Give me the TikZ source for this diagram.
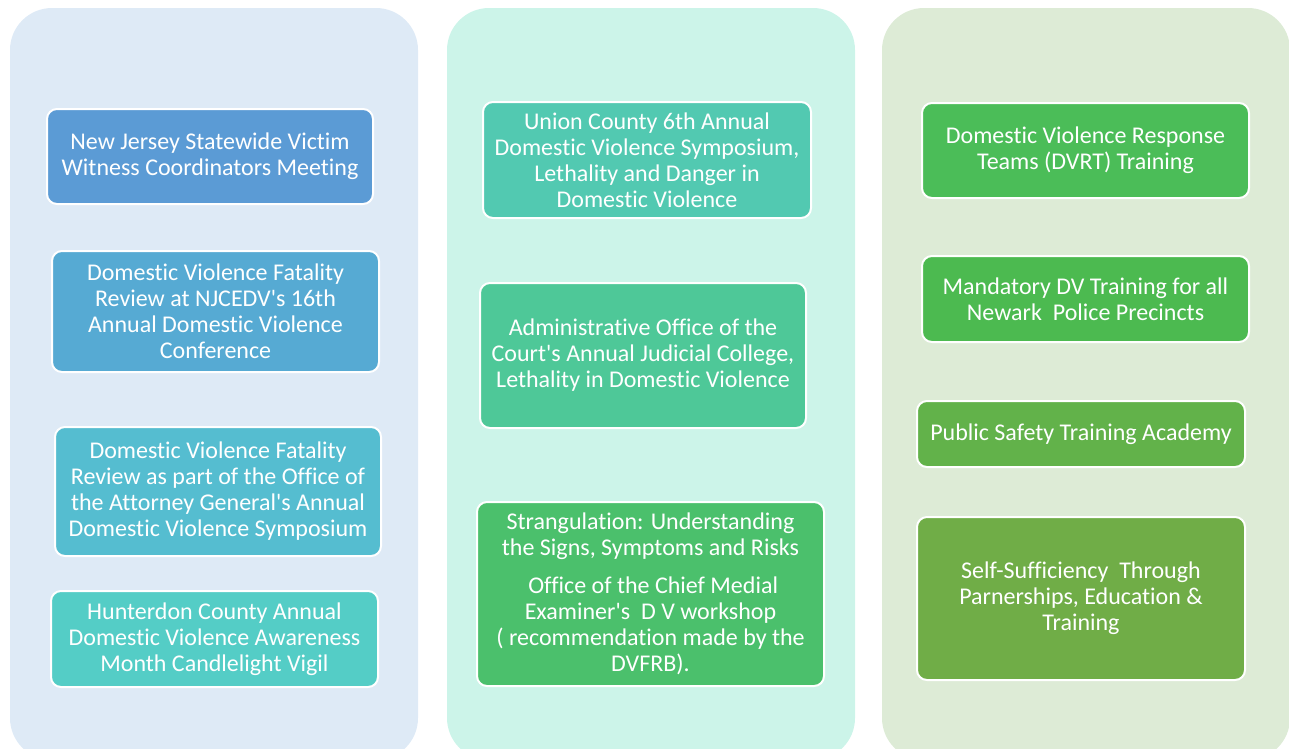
\documentclass[tikz,border=0pt]{standalone}
\usepackage{fontspec}
\setmainfont{Carlito}[Ligatures=NoCommon]
\definecolor{colA}{HTML}{DEEAF6}
\definecolor{colB}{HTML}{CCF4E9}
\definecolor{colC}{HTML}{DDEBD6}
\definecolor{boxA}{HTML}{5B9BD5}
\definecolor{boxB}{HTML}{56AAD3}
\definecolor{boxC}{HTML}{55BDD0}
\definecolor{boxD}{HTML}{54CDC6}
\definecolor{boxE}{HTML}{52C9B1}
\definecolor{boxF}{HTML}{4EC898}
\definecolor{boxG}{HTML}{4BC06C}
\definecolor{boxH}{HTML}{4BBD58}
\definecolor{boxI}{HTML}{4CBA50}
\definecolor{boxJ}{HTML}{62B24A}
\definecolor{boxK}{HTML}{70AD47}
\newcommand{\q}{\textquotesingle}
\begin{document}
\begin{tikzpicture}[x=1pt, y=-1pt,
    panel/.style={rounded corners=42pt},
    item/.style={draw=white, line width=2pt, rounded corners=10pt, text=white, align=center,
      font=\fontsize{24}{26}\selectfont, inner sep=0pt}]
    \clip (0,0) rectangle (1289,748);
    % three columns
    \foreach \x/\col in {10/colA,447/colB,882/colC}{
      \fill[\col, panel] (\x,8) rectangle (\x+408,760);
    }
    % first column
    \node[item, fill=boxA, minimum width=326pt, minimum height=95pt] (vw) at (210,156.5)
      {New Jersey Statewide Victim\\Witness Coordinators Meeting};
    \node[item, fill=boxB, minimum width=327pt, minimum height=121pt] (fr) at (215.5,311.5)
      {Domestic Violence Fatality\\Review at NJCEDV\q s 16th\\Annual Domestic Violence\\Conference};
    \node[item, fill=boxC, minimum width=326pt, minimum height=129pt] (ag) at (218,491.5)
      {Domestic Violence Fatality\\Review as part of the Office of\\the Attorney General\q s Annual\\Domestic Violence Symposium};
    \node[item, fill=boxD, minimum width=327pt, minimum height=96pt] (hc) at (214.5,639)
      {Hunterdon County Annual\\Domestic Violence Awareness\\Month Candlelight Vigil};
    % second column
    \node[item, fill=boxE, minimum width=328pt, minimum height=116pt] (uc) at (647,160)
      {Union County 6th Annual\\Domestic Violence Symposium,\\Lethality and Danger in\\Domestic Violence};
    \node[item, fill=boxF, minimum width=326pt, minimum height=145pt] (jc) at (643,355.5)
      {Administrative Office of the\\Court\q s Annual Judicial College,\\Lethality in Domestic Violence};
    \node[item, fill=boxG, minimum width=347pt, minimum height=184pt] (st) at (650.5,594)
      {Strangulation: Understanding\\the Signs, Symptoms and Risks\\[12pt]
       \ Office of the Chief Medial\\Examiner\q s\ \ D V workshop\\( recommendation made by the\\DVFRB).};
    % third column
    \node[item, fill=boxH, minimum width=327pt, minimum height=95pt] (dt) at (1085.5,150.5)
      {Domestic Violence Response\\Teams (DVRT) Training};
    \node[item, fill=boxI, minimum width=327pt, minimum height=86pt] (np) at (1085.5,299)
      {Mandatory DV Training for all\\Newark\ \ Police Precincts};
    \node[item, fill=boxJ, minimum width=328pt, minimum height=66pt] (ps) at (1081,434)
      {Public Safety Training Academy};
    \node[item, fill=boxK, minimum width=328pt, minimum height=163pt] (ss) at (1081,598.5)
      {Self-Sufficiency\ \ Through\\Parnerships, Education \&\\Training};
\end{tikzpicture}
\end{document}
